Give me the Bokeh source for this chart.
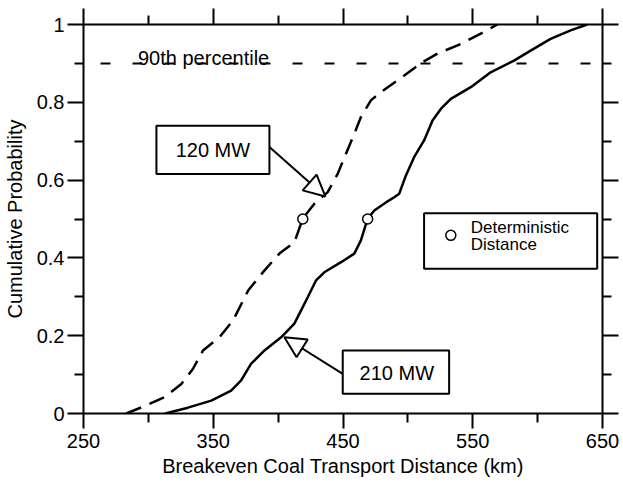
from bokeh.plotting import figure
from bokeh.models import (FixedTicker, LinearAxis, Range1d, BoxAnnotation, Label,
                          Arrow, NormalHead, ColumnDataSource)
from bokeh.embed import file_html
from bokeh.resources import INLINE

# ---- data ----
dist_120 = [283, 298.5, 312.5, 325.4, 334.4, 342.1, 354.8, 365.2, 376.9, 389.5, 401.0,
            412.5, 419.0, 427.9, 438.2, 445.9, 452.3, 458.7, 463.8, 471.5, 479.2, 497.2,
            511.3, 522.8, 540.8, 553.6, 569.0]
prob_120 = [0.0, 0.021, 0.042, 0.076, 0.115, 0.162, 0.196, 0.239, 0.316, 0.368, 0.411,
            0.440, 0.501, 0.539, 0.569, 0.616, 0.668, 0.719, 0.762, 0.805, 0.826, 0.869,
            0.903, 0.925, 0.950, 0.972, 1.0]

dist_210 = [313, 330.5, 348.5, 363.8, 371.5, 379.2, 389.5, 402.3, 412.5, 417.7, 422.8,
            429.2, 435.6, 448.5, 458.7, 463.8, 469.0, 474.1, 485.6, 489.5, 493.3, 498.5,
            504.8, 512.5, 519.0, 525.4, 533.1, 548.5, 563.8, 581.8, 594.6, 610.0, 625.4,
            638.2]
prob_210 = [0.0, 0.015, 0.033, 0.059, 0.085, 0.128, 0.162, 0.196, 0.231, 0.265, 0.299,
            0.342, 0.363, 0.389, 0.411, 0.445, 0.501, 0.522, 0.548, 0.556, 0.565, 0.612,
            0.659, 0.702, 0.753, 0.783, 0.809, 0.839, 0.877, 0.907, 0.933, 0.963, 0.985,
            1.0]

det_dist = [419, 469]
det_prob = [0.5, 0.5]

percentile_level = 0.9
x_ticks = [250, 350, 450, 550, 650]
x_minor = [300, 400, 500, 600]
y_ticks = [0, 0.2, 0.4, 0.6, 0.8, 1]
y_minor = [0.1, 0.3, 0.5, 0.7, 0.9]
y_tick_labels = ["0", "0.2", "0.4", "0.6", "0.8", "1"]

FONT = "Liberation Sans"

p = figure(width=623, height=492, x_range=Range1d(250, 650), y_range=Range1d(0, 1),
           output_backend="svg", toolbar_location=None,
           min_border_left=82, min_border_right=21, min_border_top=24, min_border_bottom=79,
           x_axis_label="Breakeven Coal Transport Distance (km)",
           y_axis_label="Cumulative Probability")
p.grid.visible = False
p.outline_line_color = None
p.background_fill_color = "white"
p.border_fill_color = "white"


def style_axis(ax, ticks, minor, labels=True):
    ax.ticker = FixedTicker(ticks=ticks, minor_ticks=minor)
    ax.axis_line_width = 2
    ax.axis_line_color = "black"
    ax.major_tick_line_width = 2
    ax.minor_tick_line_width = 2
    ax.major_tick_line_color = "black"
    ax.minor_tick_line_color = "black"
    ax.major_tick_in = 0
    ax.minor_tick_in = 0
    ax.major_tick_out = 16
    ax.minor_tick_out = 9
    if labels:
        ax.major_label_text_font = FONT
        ax.major_label_text_font_size = "20px"
        ax.major_label_text_color = "black"
        ax.axis_label_text_font = FONT
        ax.axis_label_text_font_size = "20px"
        ax.axis_label_text_font_style = "normal"
        ax.axis_label_text_color = "black"
    else:
        ax.major_label_text_color = None
        ax.major_label_text_font_size = "1px"
        ax.major_label_standoff = 0


xa = p.xaxis[0]
style_axis(xa, x_ticks, x_minor)
xa.major_tick_out = 15
xa.major_label_standoff = 5
xa.axis_label_standoff = 4

ya = p.yaxis[0]
style_axis(ya, y_ticks, y_minor)
ya.major_label_overrides = dict(zip(y_ticks, y_tick_labels))
ya.major_label_standoff = 3
ya.axis_label_standoff = 8

top = LinearAxis()
style_axis(top, x_ticks, x_minor, labels=False)
p.add_layout(top, "above")
right = LinearAxis()
style_axis(right, y_ticks, y_minor, labels=False)
p.add_layout(right, "right")

# 90th percentile line
p.line([x_ticks[0], x_ticks[-1]], [percentile_level, percentile_level],
       line_color="black", line_width=2, line_dash="10 22", line_dash_offset=15)

# curves
p.line(dist_120, prob_120, line_color="black", line_width=2.5, line_dash="16 9")
p.line(dist_210, prob_210, line_color="black", line_width=2.5)

# deterministic distances
p.scatter(det_dist, det_prob, marker="circle", size=10, fill_color="white",
          line_color="black", line_width=1.5)

# annotations
p.add_layout(Label(x=292, y=0.913, text="90th percentile", text_font=FONT,
                   text_font_size="20px", text_color="black", text_baseline="alphabetic"))

head = dict(size=21, fill_color="white", line_color="black", line_width=2)
p.add_layout(Arrow(x_start=393.3, y_start=0.685, x_end=436.4, y_end=0.558,
                   line_width=2, line_color="black", end=NormalHead(**head)))
p.add_layout(Arrow(x_start=449.8, y_start=0.102, x_end=404.8, y_end=0.196,
                   line_width=2, line_color="black", end=NormalHead(**head)))

p.add_layout(BoxAnnotation(left=306.2, right=393.3, bottom=0.616, top=0.740,
                           fill_color="white", fill_alpha=1, line_color="black",
                           line_width=2, line_alpha=1))
p.add_layout(Label(x=349.7, y=0.678, text="120 MW", text_font=FONT, text_font_size="20px",
                   text_align="center", text_baseline="middle", text_color="black"))

p.add_layout(BoxAnnotation(left=449.8, right=531.8, bottom=0.051, top=0.162,
                           fill_color="white", fill_alpha=1, line_color="black",
                           line_width=2, line_alpha=1))
p.add_layout(Label(x=491.5, y=0.104, text="210 MW", text_font=FONT, text_font_size="20px",
                   text_align="center", text_baseline="middle", text_color="black"))

# legend box
p.add_layout(BoxAnnotation(left=512.5, right=645.9, bottom=0.372, top=0.515,
                           fill_color="white", fill_alpha=1, line_color="black",
                           line_width=2, line_alpha=1))
p.scatter([533.1], [0.458], marker="circle", size=10, fill_color="white",
          line_color="black", line_width=1.5, level="overlay")
p.add_layout(Label(x=548.5, y=0.479, text="Deterministic", text_font=FONT,
                   text_font_size="17px", text_baseline="middle", text_color="black"))
p.add_layout(Label(x=548.5, y=0.434, text="Distance", text_font=FONT,
                   text_font_size="17px", text_baseline="middle", text_color="black"))

open("out.html", "w").write(file_html(p, INLINE))
